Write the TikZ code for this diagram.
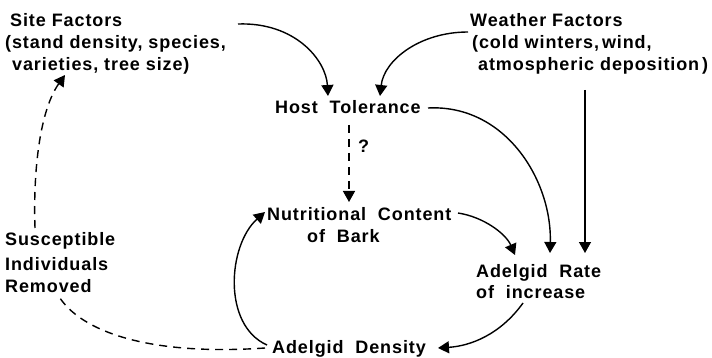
\documentclass[tikz,border=0pt]{standalone}
\usepackage{fontspec}
\setmainfont{Liberation Sans}[LetterSpace=5]
\usetikzlibrary{arrows.meta}
\begin{document}
\begin{tikzpicture}[x=1pt,y=-1pt,
  lbl/.style={anchor=base west,inner sep=0pt,font=\fontsize{18}{22}\selectfont\bfseries},
  link/.style={line width=1.4pt,-{Triangle[length=11pt,width=12pt]}},
  plain/.style={line width=1.4pt},
  brokenline/.style={dash pattern=on 8pt off 6pt}]
\useasboundingbox (0,0) rectangle (712,358);

% text blocks
\node[lbl] (site1) at (10,27) {Site Factors};
\node[lbl] (site2) at (5,49) {(stand density, species,};
\node[lbl] (site3) at (12,71) {varieties, tree size)};
\node[lbl] (wx1) at (470,27) {Weather Factors};
\node[lbl] (wx2) at (472,49) {(cold winters,\,wind,};
\node[lbl] (wx3) at (478,71) {atmospheric deposition\,)};
\node[lbl] (host) at (275,114) {Host\ \ Tolerance};
\node[lbl] (q) at (358,153) {?};
\node[lbl] (nut1) at (267,221) {Nutritional\ \ Content};
\node[lbl] (nut2) at (307,243) {of\ \ Bark};
\node[lbl] (rate1) at (476,277) {Adelgid\ \ Rate};
\node[lbl] (rate2) at (476,298) {of\ \ increase};
\node[lbl] (dens) at (272,353) {Adelgid\ \ Density};
\node[lbl] (sus1) at (5,245) {Susceptible};
\node[lbl] (sus2) at (5,270) {Individuals};
\node[lbl] (sus3) at (5,292) {Removed};

% connector end points
\coordinate (siteOut) at (238,24);
\coordinate (hostInL) at (328,96);
\coordinate (wxOut) at (468,32);
\coordinate (hostInR) at (380,96);
\coordinate (hostOutR) at (428,108);
\coordinate (hostOutB) at (349,125);
\coordinate (nutIn) at (349,202);
\coordinate (nutOut) at (458,213);
\coordinate (nutInL) at (265,212);
\coordinate (rateInA) at (515,255);
\coordinate (rateInB) at (550,253);
\coordinate (rateInC) at (585,253);
\coordinate (wxOutB) at (585,90);
\coordinate (rateOut) at (523,303);
\coordinate (densIn) at (438,348);
\coordinate (densOutL) at (267,345);
\coordinate (densOutD) at (265,348);
\coordinate (susOutB) at (58,295);
\coordinate (susOutT) at (35,228);
\coordinate (siteIn) at (65,75);

% influences
\draw[link] (siteOut) .. controls (295,22) and (326,60) .. (hostInL);
\draw[link] (wxOut) .. controls (420,32) and (384,60) .. (hostInR);
\draw[link] (hostOutR) .. controls (505,104) and (552,180) .. (rateInB);
\draw[link] (wxOutB) -- (rateInC);
\draw[link] (nutOut) .. controls (484,217) and (506,234) .. (rateInA);
\draw[link] (rateOut) .. controls (500,335) and (470,346) .. (densIn);
\draw[link] (densOutL) .. controls (222,325) and (228,245) .. (nutInL);
\draw[link,brokenline] (hostOutB) -- (nutIn);
\draw[plain,brokenline] (densOutD) .. controls (150,356) and (80,332) .. (susOutB);
\draw[link,brokenline] (susOutT) .. controls (33,170) and (40,110) .. (siteIn);
\end{tikzpicture}
\end{document}
